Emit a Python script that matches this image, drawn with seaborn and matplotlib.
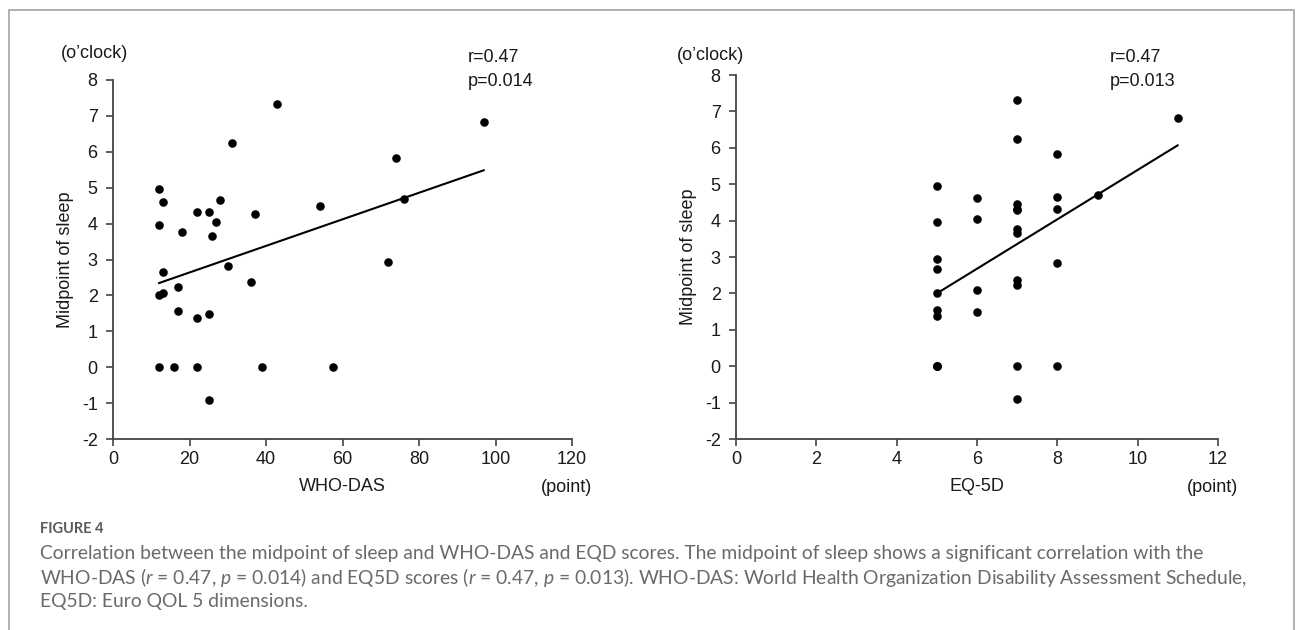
import matplotlib
matplotlib.use("Agg")
import matplotlib.pyplot as plt
import matplotlib.patches as mpatches
import numpy as np
import pandas as pd
import seaborn as sns

# ---- data ----
whodas = [12, 13, 12, 13, 12, 13, 12, 17, 17, 16, 18, 22, 22, 22, 25, 25, 25,
          26, 27, 28, 30, 31, 36, 37, 39, 43, 54, 57.5, 72, 74, 76, 97]
sleep_whodas = [4.95, 4.61, 3.97, 2.66, 2.02, 2.08, 0.0, 2.23, 1.56, 0.0, 3.76,
                4.32, 1.38, 0.0, 4.32, 1.48, -0.90, 3.65, 4.05, 4.66, 2.83, 6.25,
                2.37, 4.28, 0.0, 7.32, 4.49, 0.0, 2.94, 5.83, 4.69, 6.83]

eq5d = [5, 5, 5, 5, 5, 5, 5, 5, 5, 5,
        6, 6, 6, 6,
        7, 7, 7, 7, 7, 7, 7, 7, 7, 7, 7,
        8, 8, 8, 8, 8,
        9, 11]
sleep_eq5d = [4.95, 3.97, 2.95, 2.66, 2.02, 1.54, 1.38, 0.0, 0.0, 0.0,
              4.61, 4.05, 2.08, 1.48,
              7.32, 6.25, 4.46, 4.32, 4.28, 3.76, 3.65, 2.37, 2.23, 0.0, -0.90,
              5.83, 4.66, 4.32, 2.83, 0.0,
              4.69, 6.83]

y_ticks = [-2, -1, 0, 1, 2, 3, 4, 5, 6, 7, 8]
x_ticks_left = [0, 20, 40, 60, 80, 100, 120]
x_ticks_right = [0, 2, 4, 6, 8, 10, 12]
stats_left = ["r=0.47", "p=0.014"]
stats_right = ["r=0.47", "p=0.013"]

caption_title = "FIGURE 4"
caption_lines = [
    "Correlation between the midpoint of sleep and WHO-DAS and EQD scores. The midpoint of sleep shows a significant correlation with the",
    "WHO-DAS ($r$ = 0.47, $p$ = 0.014) and EQ5D scores ($r$ = 0.47, $p$ = 0.013). WHO-DAS: World Health Organization Disability Assessment Schedule,",
    "EQ5D: Euro QOL 5 dimensions.",
]

df_left = pd.DataFrame({"WHO-DAS": whodas, "Midpoint of sleep": sleep_whodas})
df_right = pd.DataFrame({"EQ-5D": eq5d, "Midpoint of sleep": sleep_eq5d})

# ---- style ----
sns.set_theme(style="ticks")
plt.rcParams["font.family"] = ["Liberation Sans", "DejaVu Sans"]
plt.rcParams["axes.unicode_minus"] = False
plt.rcParams["mathtext.fontset"] = "custom"
plt.rcParams["mathtext.rm"] = "Lato"
plt.rcParams["mathtext.it"] = "Lato:italic"

W, H = 1298, 630
fig = plt.figure(figsize=(W / 100, H / 100), dpi=100)
fig.patch.set_facecolor("white")

def px_axes(x0, x1, ytop, ybot):
    return fig.add_axes([x0 / W, 1 - ybot / H, (x1 - x0) / W, (ybot - ytop) / H])

axL = px_axes(113, 572, 80, 439)
axR = px_axes(736, 1218, 75, 439)

fs = 13
txt_color = "#1a1a1a"
axis_color = "#444444"

for ax, df, xcol, xt, xlim in [
    (axL, df_left, "WHO-DAS", x_ticks_left, (0, 120)),
    (axR, df_right, "EQ-5D", x_ticks_right, (0, 12)),
]:
    sns.regplot(data=df, x=xcol, y="Midpoint of sleep", ax=ax, ci=None,
                color="black", truncate=True,
                scatter_kws={"s": 38, "linewidths": 0, "alpha": 1},
                line_kws={"lw": 1.5, "color": "black"})
    ax.set_xlim(*xlim)
    ax.set_ylim(-2, 8)
    ax.set_xticks(xt)
    ax.set_yticks(y_ticks)
    sns.despine(ax=ax)
    for s in ["left", "bottom"]:
        ax.spines[s].set_color(axis_color)
        ax.spines[s].set_linewidth(1.3)
    ax.tick_params(axis="both", direction="out", length=5, width=1.2,
                   color=axis_color, labelsize=fs, labelcolor=txt_color)
    ax.tick_params(axis="y", pad=6)
    ax.tick_params(axis="x", pad=4)
    ax.set_xlabel(xcol, fontsize=fs, color=txt_color, labelpad=7)
    ax.set_ylabel("Midpoint of sleep", fontsize=fs, color=txt_color, labelpad=6)
    ax.patch.set_alpha(0)

# unit labels and stats
fig.text(95 / W, 1 - 54 / H, "(o\u2019clock)", ha="center", va="center", fontsize=fs, color=txt_color)
fig.text(711 / W, 1 - 55 / H, "(o\u2019clock)", ha="center", va="center", fontsize=fs, color=txt_color)
fig.text(566 / W, 1 - 488 / H, "(point)", ha="center", va="center", fontsize=fs, color=txt_color)
fig.text(1213 / W, 1 - 487 / H, "(point)", ha="center", va="center", fontsize=fs, color=txt_color)
for x0, lines in [(468, stats_left), (1110, stats_right)]:
    for j, s in enumerate(lines):
        fig.text(x0 / W, 1 - (57 + 24 * j) / H, s, ha="left", va="center",
                 fontsize=fs, color=txt_color)

# caption
cap_x = 40 / W
fig.text(cap_x, 1 - 529 / H, caption_title, ha="left", va="center", fontsize=10.5,
         color="#5a5a5a", family=["Lato", "DejaVu Sans"], weight="bold")
for i, line in enumerate(caption_lines):
    fig.text(cap_x, 1 - (553 + 24.5 * i) / H, line, ha="left", va="center",
             fontsize=13.9, color="#6a6a6a", family=["Lato", "DejaVu Sans"])

# frame (left, top, right; open at the bottom)
frame = mpatches.Rectangle((9 / W, -0.1), (1294 - 9) / W, 1.1 - 10 / H,
                           transform=fig.transFigure, fill=False,
                           edgecolor="#aaaaaa", linewidth=1.3, clip_on=False)
fig.add_artist(frame)

fig.savefig("out.png", dpi=100, facecolor="white")
